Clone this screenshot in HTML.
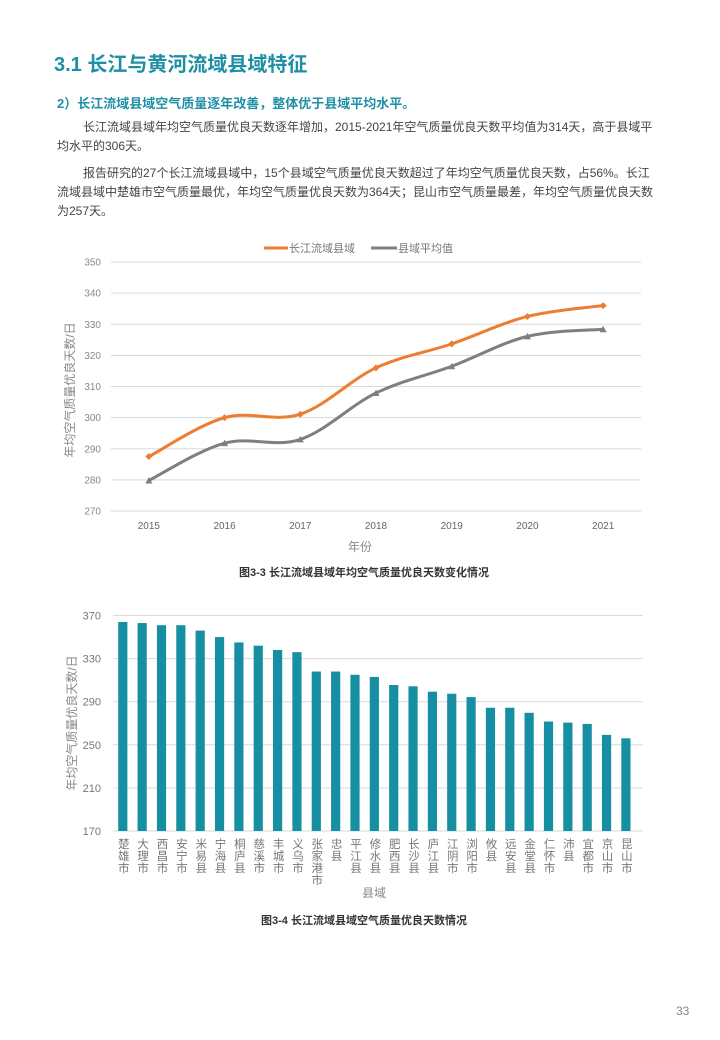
<!DOCTYPE html>
<html><head><meta charset="utf-8"><style>
body{margin:0;background:#fff;width:720px;height:1040px;position:relative;overflow:hidden;font-family:"Liberation Sans","Noto Sans CJK SC",sans-serif;}
.t{position:absolute;white-space:nowrap;}
p{margin:0;}
</style></head><body>
<div class="t" style="left:54px;top:48px;font-size:20px;font-weight:bold;color:#1f8fa6;">3.1 长江与黄河流域县域特征</div>
<div class="t" style="left:57px;top:93px;font-size:13px;font-weight:bold;color:#1f8fa6;">2）长江流域县域空气质量逐年改善，整体优于县域平均水平。</div>
<div style="position:absolute;left:57px;top:118px;white-space:nowrap;font-size:12px;line-height:19px;color:#444;"><span style="padding-left:26px"></span>长江流域县域年均空气质量优良天数逐年增加，2015-2021年空气质量优良天数平均值为314天，高于县域平<br>均水平的306天。</div>
<div style="position:absolute;left:57px;top:164px;white-space:nowrap;font-size:12px;line-height:19px;color:#444;"><span style="padding-left:26px"></span>报告研究的27个长江流域县域中，15个县域空气质量优良天数超过了年均空气质量优良天数，占56%。长江<br>流域县域中楚雄市空气质量最优，年均空气质量优良天数为364天；昆山市空气质量最差，年均空气质量优良天数<br>为257天。</div>
<svg id="line" width="720" height="600" style="position:absolute;left:0;top:0" font-family="Liberation Sans, Noto Sans CJK SC, sans-serif"></svg>
<svg id="bar" width="720" height="1040" style="position:absolute;left:0;top:0" font-family="Liberation Sans, Noto Sans CJK SC, sans-serif"></svg>
<div class="t" style="left:676px;top:1004px;font-size:12px;color:#888;">33</div>
<script>
const years=["2015","2016","2017","2018","2019","2020","2021"];
const yangtze=[287.5,300,301.1,316,323.7,332.5,336];
const average=[279.8,291.8,293,307.9,316.5,326.1,328.4];
const lineTicks=[270,280,290,300,310,320,330,340,350];

const counties=["楚雄市","大理市","西昌市","安宁市","米易县","宁海县","桐庐县","慈溪市","丰城市","义乌市","张家港市","忠县","平江县","修水县","肥西县","长沙县","庐江县","江阴市","浏阳市","攸县","远安县","金堂县","仁怀市","沛县","宜都市","京山市","昆山市"];
const goodDays=[364,363,361,361,356,350,345,342,338,336,318,318,315,313,305.5,304.3,299.3,297.4,294.3,284.4,284.4,279.7,271.6,270.6,269.4,259.2,256];
const barTicks=[170,210,250,290,330,370];

const NS="http://www.w3.org/2000/svg";
function mk(svg,tag,attrs,text){const e=document.createElementNS(NS,tag);for(const k in attrs)e.setAttribute(k,attrs[k]);if(text!==undefined)e.textContent=text;svg.appendChild(e);return e;}

const L=document.getElementById('line');
const lx0=111,lx1=641,ly0=511,ly1=262,lmin=270,lmax=350;
const lxs=i=>lx0+(lx1-lx0)/years.length*(i+0.5);
const lys=v=>ly0-(v-lmin)/(lmax-lmin)*(ly0-ly1);
lineTicks.forEach(t=>{
 const g=mk(L,'line',{x1:lx0,x2:lx1,y1:lys(t),y2:lys(t),stroke:'#d9d9d9','stroke-width':1});
 
 
 const l=mk(L,'text',{x:101,y:lys(t)+3.5,'font-size':10,fill:'#888','text-anchor':'end'},t);
 
 
});
years.forEach((y,i)=>{
 const l=mk(L,'text',{x:lxs(i),y:529,'font-size':10,fill:'#666','text-anchor':'middle'},y);
 
 
});
function smooth(pts){let d=`M${pts[0][0]},${pts[0][1]}`;for(let i=0;i<pts.length-1;i++){const p0=pts[Math.max(0,i-1)],p1=pts[i],p2=pts[i+1],p3=pts[Math.min(pts.length-1,i+2)];const t=0.17;d+=` C${p1[0]+(p2[0]-p0[0])*t},${p1[1]+(p2[1]-p0[1])*t} ${p2[0]-(p3[0]-p1[0])*t},${p2[1]-(p3[1]-p1[1])*t} ${p2[0]},${p2[1]}`;}return d;}
function series(vals,color,name,marker){
 const pts=vals.map((v,i)=>[lxs(i),lys(v)]);
 const p=mk(L,'path',{d:smooth(pts),fill:'none',stroke:color,'stroke-width':3});
 
 
 pts.forEach(q=>{
  let m;
  if(marker==='d')m=mk(L,'path',{d:`M${q[0]},${q[1]-3.5}L${q[0]+3.5},${q[1]}L${q[0]},${q[1]+3.5}L${q[0]-3.5},${q[1]}Z`,fill:color});
  else m=mk(L,'path',{d:`M${q[0]},${q[1]-3.5}L${q[0]+3.5},${q[1]+3}L${q[0]-3.5},${q[1]+3}Z`,fill:color});
  
  
 });
}
series(average,'#7f7f7f','average','t');
series(yangtze,'#ed7d31','yangtze','d');
let lg=mk(L,'line',{x1:264,x2:288,y1:248,y2:248,stroke:'#ed7d31','stroke-width':3});

lg=mk(L,'text',{x:289,y:252,'font-size':11,fill:'#777'},'长江流域县域');

lg=mk(L,'line',{x1:371,x2:397,y1:248,y2:248,stroke:'#7f7f7f','stroke-width':3});

lg=mk(L,'text',{x:398,y:252,'font-size':11,fill:'#777'},'县域平均值');

let tt=mk(L,'text',{x:0,y:0,'font-size':12,fill:'#888','text-anchor':'middle',transform:'translate(74,390) rotate(-90)'},'年均空气质量优良天数/日');

tt=mk(L,'text',{x:360,y:551,'font-size':12,fill:'#888','text-anchor':'middle'},'年份');

tt=mk(L,'text',{x:364,y:576,'font-size':11,fill:'#333','font-weight':'bold','text-anchor':'middle'},'图3-3 长江流域县域年均空气质量优良天数变化情况');


const B=document.getElementById('bar');
const bx0=113,bstep=19.35,by0=831,by1=615.5,bmin=170,bmax=370;
const bxs=i=>bx0+9.8+i*bstep;
const bys=v=>by0-(v-bmin)/(bmax-bmin)*(by0-by1);
barTicks.forEach(t=>{
 const g=mk(B,'line',{x1:bx0,x2:643,y1:bys(t),y2:bys(t),stroke:'#d9d9d9','stroke-width':1});
 
 
 const l=mk(B,'text',{x:101,y:bys(t)+4,'font-size':11,fill:'#777','text-anchor':'end'},t);
 
 
});
counties.forEach((c,i)=>{
 const r=mk(B,'rect',{x:bxs(i)-4.6,y:bys(goodDays[i]),width:9.2,height:by0-bys(goodDays[i]),fill:'#178fa3'});
 
 
 const l=mk(B,'text',{x:bxs(i),y:838,'font-size':11.5,fill:'#777',style:'writing-mode:vertical-rl;letter-spacing:0.5px'},c);
 
 
});
tt=mk(B,'text',{x:0,y:0,'font-size':12,fill:'#888','text-anchor':'middle',transform:'translate(76,723) rotate(-90)'},'年均空气质量优良天数/日');

tt=mk(B,'text',{x:374,y:897,'font-size':12,fill:'#888','text-anchor':'middle'},'县域');

tt=mk(B,'text',{x:364,y:924,'font-size':11,fill:'#333','font-weight':'bold','text-anchor':'middle'},'图3-4 长江流域县域空气质量优良天数情况');

</script>
</body></html>
